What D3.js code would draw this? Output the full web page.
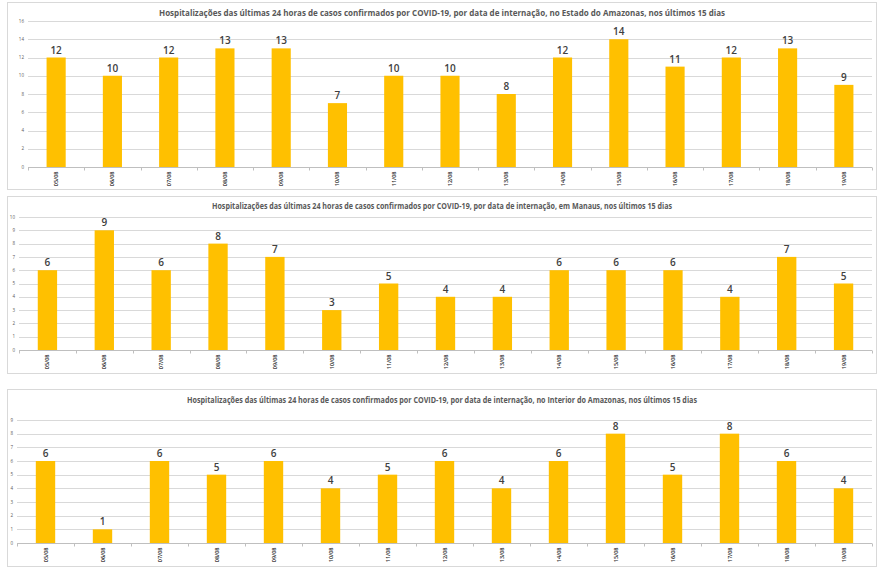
<!DOCTYPE html>
<html>
<head>
<meta charset="utf-8">
<script src="https://cdn.jsdelivr.net/npm/d3@7"></script>
<style>
  body { margin: 0; background: #fff; }
  svg { display: block; font-family: "Open Sans", "DejaVu Sans", sans-serif; }
</style>
</head>
<body>
<svg id="chart" width="880" height="575"></svg>
<script>
// datas de internação
const dates = ["05/08", "06/08", "07/08", "08/08", "09/08", "10/08", "11/08", "12/08",
  "13/08", "14/08", "15/08", "16/08", "17/08", "18/08", "19/08"];

// hospitalizações por dia
const estado = [12, 10, 12, 13, 13, 7, 10, 10, 8, 12, 14, 11, 12, 13, 9];
const manaus = [6, 9, 6, 8, 7, 3, 5, 4, 4, 6, 6, 6, 4, 7, 5];
const interior = [6, 1, 6, 5, 6, 4, 5, 6, 4, 6, 8, 5, 8, 6, 4];

const titles = [
  "Hospitalizações das últimas 24 horas de casos confirmados por COVID-19, por data de internação, no Estado do Amazonas, nos últimos 15 dias",
  "Hospitalizações das últimas 24 horas de casos confirmados por COVID-19, por data de internação, em Manaus, nos últimos 15 dias",
  "Hospitalizações das últimas 24 horas de casos confirmados por COVID-19, por data de internação, no Interior do Amazonas, nos últimos 15 dias"
];
const yMax = [16, 10, 9];
const yStep = [2, 1, 1];

// layout of each panel (frame + plot area)
const panels = [
  {top: 2, bottom: 189, titleY: 15.5, titleW: 566, x0: 28, y0: 21, y1: 167, values: estado},
  {top: 196, bottom: 373, titleY: 208.5, titleW: 460, x0: 19, y0: 217, y1: 350, values: manaus},
  {top: 389, bottom: 566, titleY: 402.5, titleW: 510, x0: 17, y0: 420, y1: 543, values: interior}
];

const svg = d3.select("#chart");

panels.forEach((p, i) => {
  const g = svg.append("g");

  g.append("rect")
    .attr("x", 7.5).attr("y", p.top + 0.5)
    .attr("width", 869).attr("height", p.bottom - p.top)
    .attr("fill", "#fff").attr("stroke", "#d9d9d9").attr("stroke-width", 1);

  g.append("text")
    .attr("x", 442).attr("y", p.titleY)
    .attr("text-anchor", "middle")
    .attr("font-size", 9.5).attr("font-weight", "bold")
    .attr("fill", "#595959")
    .attr("textLength", p.titleW).attr("lengthAdjust", "spacingAndGlyphs")
    .text(titles[i]);

  const x = d3.scaleBand().domain(dates).range([p.x0, 872])
    .paddingInner(0.66).paddingOuter(0.33);
  const y = d3.scaleLinear().domain([0, yMax[i]]).range([p.y1, p.y0]);
  const ticks = d3.range(0, yMax[i] + 0.001, yStep[i]);

  // grid
  g.append("g").selectAll("line").data(ticks.filter(t => t > 0)).join("line")
    .attr("x1", p.x0).attr("x2", 872)
    .attr("y1", d => Math.round(y(d)) + 0.5).attr("y2", d => Math.round(y(d)) + 0.5)
    .attr("stroke", "#d9d9d9").attr("stroke-width", 1);

  // y labels
  g.append("g").selectAll("text").data(ticks).join("text")
    .attr("x", p.x0 - 4).attr("y", d => y(d) + 1.6)
    .attr("text-anchor", "end")
    .attr("font-size", 4.5).attr("fill", "#595959")
    .text(d => d);

  // bars
  g.append("g").selectAll("rect").data(p.values).join("rect")
    .attr("x", (d, j) => x(dates[j]))
    .attr("width", x.bandwidth())
    .attr("y", d => y(d))
    .attr("height", d => y(0) - y(d))
    .attr("fill", "#ffc000");

  // data labels
  g.append("g").selectAll("text").data(p.values).join("text")
    .attr("x", (d, j) => x(dates[j]) + x.bandwidth() / 2)
    .attr("y", d => y(d) - 4)
    .attr("text-anchor", "middle")
    .attr("font-size", 10).attr("font-weight", 600)
    .attr("fill", "#404040")
    .text(d => d);

  // x axis line and tick marks at category boundaries
  const step = x.step();
  const base = Math.round(y(0)) + 0.5;
  g.append("line")
    .attr("x1", p.x0).attr("x2", 872).attr("y1", base).attr("y2", base)
    .attr("stroke", "#bfbfbf");
  g.append("g").selectAll("line").data(d3.range(dates.length + 1)).join("line")
    .attr("x1", k => Math.round(p.x0 + k * step) + 0.5)
    .attr("x2", k => Math.round(p.x0 + k * step) + 0.5)
    .attr("y1", base).attr("y2", base + 3)
    .attr("stroke", "#bfbfbf");

  // rotated date labels
  g.append("g").selectAll("text").data(dates).join("text")
    .attr("transform", d => `translate(${x(d) + x.bandwidth() / 2 + 2},${base + 4}) rotate(-90)`)
    .attr("text-anchor", "end")
    .attr("font-size", 5.5).attr("font-weight", 600).attr("fill", "#262626")
    .text(d => d);
});
</script>
</body>
</html>
